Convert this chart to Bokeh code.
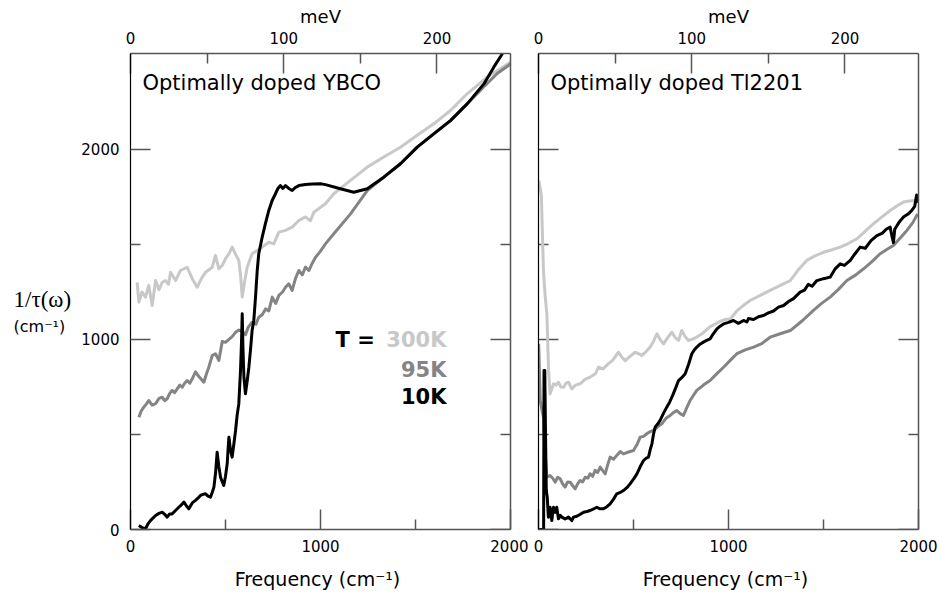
import math
from bokeh.plotting import figure
from bokeh.models import Range1d, LinearAxis, FixedTicker, Label
from bokeh.layouts import row
from bokeh.embed import file_html
from bokeh.resources import INLINE

# ---------------- data ----------------
CM_PER_MEV = 8.0655
freq_ticks = [0, 1000, 2000]
freq_minor = [500, 1500]
rate_ticks = [0, 1000, 2000]
rate_minor = [500, 1500]
mev_ticks = [0, 100, 200]
mev_minor = [50, 150]

temps = ["300K", "95K", "10K"]
temp_colors = ["#c8c8c8", "#848484", "#000000"]

# Optimally doped YBCO : (frequency cm-1, 1/tau cm-1)
ybco_300K = [(35,1301),(44,1196),(60,1250),(79,1223),(96,1285),(114,1179),(132,1310),(150,1262),(167,1300),(184,1310),
             (200,1290),(211,1354),(237,1310),(263,1363),(298,1380),(325,1320),(351,1275),(373,1320),(395,1354),(430,1380),
             (447,1442),(465,1372),(483,1390),(500,1425),(518,1450),(535,1486),(552,1450),(570,1416),(580,1330),(588,1223),
             (600,1300),(614,1380),(640,1451),(667,1468),(693,1486),(728,1512),(754,1503),(781,1565),(816,1574),(851,1591),
             (886,1626),(921,1645),(947,1625),(965,1670),(1026,1714),(1070,1767),(1158,1837),(1246,1907),(1333,1960),(1421,2012),
             (1509,2075),(1596,2135),(1684,2205),(1772,2293),(1877,2381),(1947,2425),(2000,2460)]
ybco_95K = [(44,591),(57,625),(70,644),(83,660),(96,679),(114,655),(132,662),(150,690),(167,696),(180,678),
            (193,688),(206,715),(219,732),(232,720),(246,740),(259,760),(272,749),(285,770),(298,784),(312,770),
            (325,793),(342,830),(360,805),(386,775),(400,820),(412,854),(430,915),(447,925),(465,890),(483,990),
            (500,985),(535,1015),(555,1040),(570,1050),(590,1040),(605,1025),(620,1065),(640,1091),(660,1080),(675,1117),
            (693,1130),(711,1161),(728,1150),(746,1223),(764,1190),(781,1232),(800,1250),(816,1275),(833,1293),(851,1258),
            (868,1320),(886,1363),(904,1340),(921,1381),(939,1363),(956,1400),(974,1433),(1000,1465),(1026,1503),(1070,1556),
            (1158,1661),(1246,1784),(1333,1854),(1421,1925),(1509,2012),(1596,2082),(1684,2152),(1772,2240),(1860,2330),(1930,2400),
            (2000,2450)]
ybco_10K = [(44,21),(60,10),(79,4),(92,30),(105,47),(118,60),(132,74),(150,85),(167,91),(180,80),
            (193,65),(206,82),(219,82),(237,100),(254,117),(268,130),(281,144),(294,125),(307,109),(325,140),
            (342,153),(355,165),(368,179),(382,185),(395,188),(408,176),(421,170),(430,195),(439,223),(448,300),
            (456,407),(465,330),(474,275),(483,250),(491,232),(500,280),(509,346),(514,430),(518,486),(526,420),
            (535,381),(544,450),(553,521),(561,600),(570,661),(575,760),(579,837),(584,980),(588,1135),(592,950),
            (597,800),(605,714),(614,780),(623,854),(632,950),(640,1047),(649,1100),(658,1223),(667,1363),(675,1451),
            (693,1538),(710,1610),(728,1679),(745,1730),(763,1767),(776,1795),(789,1810),(802,1795),(816,1810),(833,1795),
            (851,1784),(868,1800),(886,1810),(921,1816),(956,1818),(1000,1819),(1026,1815),(1105,1793),(1175,1775),(1246,1793),
            (1333,1854),(1421,1925),(1509,2012),(1596,2082),(1684,2152),(1772,2240),(1860,2345),(1912,2433),(1958,2505)]

# Optimally doped Tl2201
tl_300K = [(2,1837),(15,1760),(26,1363),(35,1230),(44,1135),(53,837),(61,714),(70,740),(79,767),(92,760),
           (105,775),(118,750),(132,749),(145,770),(158,775),(175,740),(195,760),(219,767),(245,790),(272,802),
           (300,820),(316,854),(340,845),(365,870),(390,890),(421,933),(440,905),(456,889),(480,910),(509,933),
           (544,916),(565,935),(588,960),(605,990),(623,1030),(640,1000),(658,977),(680,1010),(702,1038),(720,1010),
           (737,995),(754,1047),(772,1015),(789,995),(820,1005),(860,1030),(900,1065),(947,1091),(980,1105),(1009,1108),
           (1044,1150),(1079,1180),(1114,1205),(1167,1232),(1219,1258),(1270,1283),(1325,1310),(1370,1370),(1412,1416),(1455,1440),
           (1500,1459),(1545,1472),(1588,1486),(1630,1505),(1676,1530),(1720,1570),(1763,1609),(1808,1645),(1851,1679),(1890,1705),
           (1921,1723),(1960,1730),(1995,1731)]
tl_95K = [(1,977),(9,679),(20,620),(26,591),(35,400),(44,275),(61,284),(75,270),(88,249),(101,275),
          (114,267),(127,240),(140,223),(153,250),(167,249),(180,230),(193,214),(206,240),(219,258),(232,250),
          (246,275),(259,270),(272,293),(285,280),(298,311),(311,300),(325,328),(338,310),(351,293),(364,340),
          (377,381),(395,370),(412,390),(430,410),(447,398),(465,405),(500,416),(520,450),(535,486),(553,490),
          (570,504),(588,515),(605,521),(627,540),(649,556),(671,585),(693,600),(710,615),(728,626),(746,610),
          (763,600),(780,640),(798,679),(815,705),(833,732),(868,760),(903,784),(939,820),(974,854),(1009,890),
          (1044,925),(1088,945),(1132,960),(1175,978),(1219,1012),(1272,1030),(1325,1047),(1390,1100),(1447,1153),(1490,1190),
          (1535,1223),(1580,1265),(1623,1310),(1670,1340),(1711,1372),(1755,1410),(1798,1451),(1835,1475),(1868,1495),(1905,1535),
          (1939,1574),(1970,1615),(1995,1660)]
tl_10K = [(0,0),(27,0),(29,837),(33,837),(37,500),(41,205),(46,170),(52,65),(61,117),(70,47),
          (79,117),(88,90),(96,117),(105,56),(114,75),(123,65),(140,55),(158,65),(175,47),(184,65),
          (202,70),(220,80),(237,91),(255,95),(272,100),(290,108),(307,117),(325,109),(342,109),(360,120),
          (377,135),(395,160),(412,188),(430,195),(447,205),(465,220),(482,240),(500,265),(518,293),(535,330),
          (553,363),(566,375),(579,381),(588,420),(597,451),(605,500),(614,539),(627,555),(640,574),(657,610),
          (675,644),(690,670),(702,696),(720,740),(737,784),(755,800),(772,819),(790,870),(807,925),(820,945),
          (833,960),(850,975),(868,986),(885,995),(903,1003),(920,1030),(939,1056),(956,1070),(974,1082),(1000,1090),
          (1026,1100),(1052,1085),(1079,1100),(1097,1092),(1105,1110),(1132,1105),(1158,1120),(1184,1126),(1210,1140),(1237,1150),
          (1263,1170),(1290,1179),(1316,1200),(1342,1215),(1377,1249),(1400,1260),(1420,1290),(1440,1280),(1465,1310),(1500,1320),
          (1535,1328),(1560,1370),(1588,1398),(1610,1390),(1641,1416),(1665,1450),(1693,1486),(1720,1480),(1750,1520),(1781,1547),
          (1810,1560),(1830,1580),(1851,1591),(1860,1545),(1868,1510),(1875,1580),(1900,1620),(1921,1644),(1945,1660),(1965,1679),
          (1980,1700),(1990,1760),(1998,1720)]

panel_titles = ["Optimally doped YBCO", "Optimally doped Tl2201"]
x_label = "Frequency  (cm\u207b\u00b9)"
top_label = "meV"
y_label_top = "1/\u03c4(\u03c9)"
y_label_bottom = "(cm\u207b\u00b9)"

AX_GRAY = "#555555"
TICK_FONT = "DejaVu Sans"
TXT = "#000000"
H = 594


def style_axis(ax, line_color=AX_GRAY, line_width=1.5, standoff=11):
    ax.major_tick_in = 20
    ax.major_tick_out = 0
    ax.minor_tick_in = 10
    ax.minor_tick_out = 0
    ax.axis_line_color = line_color
    ax.axis_line_width = line_width
    ax.major_tick_line_color = AX_GRAY
    ax.minor_tick_line_color = AX_GRAY
    ax.major_tick_line_width = 1.5
    ax.minor_tick_line_width = 1.5
    ax.major_label_text_font = TICK_FONT
    ax.major_label_text_font_size = "15px"
    ax.major_label_text_color = TXT
    ax.major_label_standoff = standoff


def inner_ticks(p, x_edge, angle):
    # tick marks on the sides that carry no numbers
    p.ray(x=[x_edge] * len(rate_ticks), y=rate_ticks, length=20, angle=angle,
          length_units="screen", line_color=AX_GRAY, line_width=1.5)
    p.ray(x=[x_edge] * len(rate_minor), y=rate_minor, length=10, angle=angle,
          length_units="screen", line_color=AX_GRAY, line_width=1.5)


def make_panel(title, curves, width, border_left, border_right, show_y_labels):
    p = figure(width=width, height=H,
               x_range=Range1d(0, 2000), y_range=Range1d(0, 2505),
               output_backend="svg", toolbar_location=None,
               min_border_left=border_left, min_border_right=border_right,
               min_border_top=53, min_border_bottom=H - 529,
               x_axis_location="below", y_axis_location="left")
    p.outline_line_color = None
    p.xgrid.visible = False
    p.ygrid.visible = False
    p.background_fill_color = "white"
    p.border_fill_color = "white"

    # bottom axis
    xa = p.xaxis[0]
    xa.ticker = FixedTicker(ticks=freq_ticks, minor_ticks=freq_minor)
    style_axis(xa, standoff=10)
    xa.axis_label = x_label
    xa.axis_label_text_font = "DejaVu Sans"
    xa.axis_label_text_font_size = "19px"
    xa.axis_label_text_font_style = "normal"
    xa.axis_label_text_color = TXT
    xa.axis_label_standoff = 13

    # left axis
    ya = p.yaxis[0]
    if show_y_labels:
        ya.ticker = FixedTicker(ticks=rate_ticks, minor_ticks=rate_minor)
        style_axis(ya, line_color="#000000", line_width=1.2)
    else:
        ya.ticker = FixedTicker(ticks=[], minor_ticks=[])
        style_axis(ya, line_color="#000000", line_width=1.2, standoff=0)
        inner_ticks(p, 0, 0)

    # top axis in meV
    p.extra_x_ranges = {"mev": Range1d(0, 2000 / CM_PER_MEV)}
    top = LinearAxis(x_range_name="mev",
                     ticker=FixedTicker(ticks=mev_ticks, minor_ticks=mev_minor))
    style_axis(top, standoff=10)
    top.axis_label = top_label
    top.axis_label_text_font = "DejaVu Sans"
    top.axis_label_text_font_size = "18px"
    top.axis_label_text_font_style = "normal"
    top.axis_label_text_color = TXT
    top.axis_label_standoff = 2
    p.add_layout(top, "above")

    # right axis line, ticks drawn as rays
    right = LinearAxis(ticker=FixedTicker(ticks=[], minor_ticks=[]))
    style_axis(right, standoff=0)
    p.add_layout(right, "right")
    inner_ticks(p, 2000, math.pi)

    for data, color in zip(curves, temp_colors):
        xs = [d[0] for d in data]
        ys = [d[1] for d in data]
        p.line(xs, ys, line_color=color, line_width=3, line_join="round")

    p.add_layout(Label(x=63, y=2350, text=title, text_font="DejaVu Sans", text_color=TXT,
                       text_font_size="21px", text_baseline="middle", text_align="left"))
    return p


# narrow strip that carries the y-axis title
strip = figure(width=78, height=H, x_range=Range1d(0, 78), y_range=Range1d(H, 0),
               output_backend="svg", toolbar_location=None, min_border=0,
               x_axis_location=None, y_axis_location=None)
strip.outline_line_color = None
strip.grid.visible = False
strip.add_layout(Label(x=13, y=307, text=y_label_top, text_font="Liberation Serif", text_color=TXT,
                       text_font_size="23px", text_baseline="middle", text_align="left"))
strip.add_layout(Label(x=13, y=341, text=y_label_bottom, text_font="DejaVu Sans", text_color=TXT,
                       text_font_size="16px", text_baseline="middle", text_align="left"))

p1 = make_panel(panel_titles[0], [ybco_300K, ybco_95K, ybco_10K], 450, 52, 18, True)
p2 = make_panel(panel_titles[1], [tl_300K, tl_95K, tl_10K], 410, 10, 20, False)

# temperature legend
p1.add_layout(Label(x=1079, y=995, text="T =", text_font="DejaVu Sans", text_font_style="bold",
                    text_color=TXT, text_font_size="21px", text_baseline="middle", text_align="left"))
for name, color, yy in zip(temps, temp_colors, [995, 842, 695]):
    p1.add_layout(Label(x=1663, y=yy, text=name, text_font="DejaVu Sans", text_font_style="bold",
                        text_font_size="21px", text_color=color,
                        text_baseline="middle", text_align="right"))

layout = row(strip, p1, p2)
open("out.html", "w").write(file_html(layout, INLINE))
